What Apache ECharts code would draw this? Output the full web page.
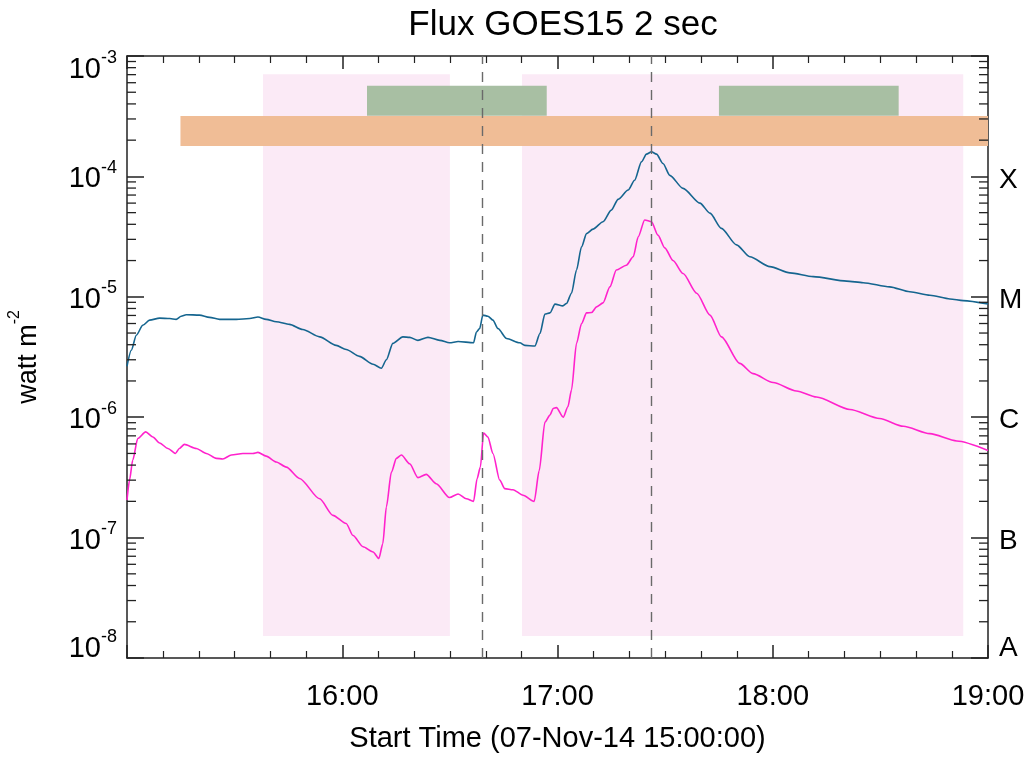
<!DOCTYPE html>
<html>
<head>
<meta charset="utf-8">
<script src="https://cdn.jsdelivr.net/npm/echarts@6/dist/echarts.min.js"></script>
<style>
html,body{margin:0;padding:0;background:#fff;}
#chart{width:1026px;height:758px;}
</style>
</head>
<body>
<div id="chart"></div>
<script>
// ---- data (time in minutes after 07-Nov-14 15:00:00, flux in W m^-2) ----
const longMinutes = [0,1.2,2.6,4.4,6.3,9.1,11.9,13.7,15.1,16.5,20.2,23.0,25.8,30.5,34.2,36.5,38.8,41.6,45.3,49.0,53.7,58.3,61.1,64.8,68.6,70.9,72.3,74.1,76.9,78.8,81.1,83.9,87.2,89.9,92.3,96.6,97.4,98.3,99.2,100.6,102.0,103.4,105.8,109.5,110.9,113.7,115.1,116.5,117.9,119.3,121.5,122.5,123.9,125.3,126.7,128.1,129.9,132.7,135.0,136.9,139.7,141.5,143.4,144.8,146.2,147.6,149.4,151.3,155.0,159.7,162.5,165.7,169.9,173.6,179.2,184.8,191.3,200.6,205.2,212.6,218.2,223.8,229.4,233.1,240];
const longFlux = [2.65e-6,3.6e-6,4.8e-6,5.8e-6,6.4e-6,6.65e-6,6.6e-6,6.5e-6,6.9e-6,7.1e-6,7.05e-6,6.75e-6,6.5e-6,6.5e-6,6.6e-6,6.8e-6,6.5e-6,6.2e-6,5.9e-6,5.35e-6,4.65e-6,3.95e-6,3.65e-6,3.2e-6,2.75e-6,2.55e-6,3.0e-6,4.1e-6,4.65e-6,4.6e-6,4.35e-6,4.6e-6,4.35e-6,4.15e-6,4.25e-6,4.15e-6,5.1e-6,5.45e-6,7.05e-6,6.9e-6,6.4e-6,5.45e-6,4.5e-6,4.15e-6,3.95e-6,3.9e-6,4.95e-6,7.2e-6,7.35e-6,8.7e-6,8.4e-6,8.8e-6,1.07e-5,1.67e-5,2.6e-5,3.35e-5,3.65e-5,4.2e-5,5.25e-5,6.45e-5,7.7e-5,9.3e-5,1.32e-4,1.53e-4,1.6e-4,1.53e-4,1.28e-4,1.02e-4,7.95e-5,6.0e-5,4.95e-5,3.7e-5,2.7e-5,2.15e-5,1.78e-5,1.58e-5,1.47e-5,1.35e-5,1.31e-5,1.21e-5,1.1e-5,1.03e-5,9.6e-6,9.3e-6,8.7e-6];

const shortMinutes = [0,0.7,1.6,3.0,5.2,7.2,9.1,11.4,13.5,14.6,16.0,19.3,22.1,24.9,26.7,29.1,32.3,35.1,36.5,38.8,41.6,44.4,48.1,53.7,57.4,61.1,63.0,65.8,68.6,70.2,71.3,72.3,73.7,75.1,76.5,78.8,81.1,83.4,86.2,89.9,92.3,94.6,96.6,97.6,98.5,99.4,100.6,102.0,103.9,105.3,107.6,110.4,113.5,114.9,116.5,117.9,118.8,119.7,121.6,122.9,123.9,125.3,126.7,128.1,129.5,130.9,132.7,134.6,136.4,139.2,141.1,142.5,144.3,146.2,148.0,149.9,152.2,155.0,158.8,162.5,165.7,170.8,174.5,180.1,186.6,192.2,201.5,209.8,216.4,223.8,231.3,240];
const shortFlux = [2.05e-7,3.0e-7,4.4e-7,6.65e-7,7.55e-7,6.85e-7,6.1e-7,5.5e-7,5.0e-7,5.5e-7,5.95e-7,5.5e-7,5.0e-7,4.55e-7,4.5e-7,4.85e-7,5.0e-7,5.0e-7,5.1e-7,4.75e-7,4.25e-7,3.85e-7,3.1e-7,2.1e-7,1.53e-7,1.31e-7,1.04e-7,8.4e-8,7.6e-8,6.7e-8,8.9e-8,1.8e-7,3.5e-7,4.55e-7,4.85e-7,4.1e-7,3.15e-7,3.35e-7,2.8e-7,2.15e-7,2.3e-7,2.1e-7,2.0e-7,3.1e-7,3.85e-7,7.4e-7,6.85e-7,5.0e-7,3.0e-7,2.55e-7,2.5e-7,2.25e-7,2.0e-7,3.6e-7,9.1e-7,1.04e-6,1.18e-6,1.2e-6,1.0e-6,1.22e-6,1.68e-6,4.1e-6,6.0e-6,7.35e-6,7.4e-6,8.25e-6,8.9e-6,1.21e-5,1.67e-5,1.83e-5,2.15e-5,3.15e-5,4.35e-5,4.2e-5,3.25e-5,2.55e-5,2.0e-5,1.56e-5,1.07e-5,7.05e-6,4.65e-6,2.8e-6,2.3e-6,1.94e-6,1.65e-6,1.47e-6,1.16e-6,9.75e-7,8.4e-7,7.3e-7,6.35e-7,5.3e-7];

// shaded intervals (minutes) and their flux extents
const shadeStart = [37.9, 110.1];
const shadeEnd = [90.0, 233.1];
const shadeFlux = [7.05e-4, 1.52e-8];
const greenStart = [66.9, 165.0];
const greenEnd = [117.0, 215.1];
const greenFlux = [5.66e-4, 3.19e-4];
const orangeStart = [14.9];
const orangeEnd = [240];
const orangeFlux = [3.17e-4, 1.79e-4];
const dashedMinutes = [99.1, 146.1];

const hourLabels = ['', '16:00', '17:00', '18:00', '19:00'];
const classLabels = {'-8': 'A', '-7': 'B', '-6': 'C', '-5': 'M', '-4': 'X', '-3': ''};

// ---- build ----
const FONT = "'Liberation Sans', Arial, Helvetica, sans-serif";
const AX = '#222';
const minorTickValues = [];
for (let k = -8; k <= -4; k++) for (let m = 2; m <= 9; m++) minorTickValues.push(m * Math.pow(10, k));

const longData = longMinutes.map((t, i) => [t, longFlux[i]]);
const shortData = shortMinutes.map((t, i) => [t, shortFlux[i]]);
const pinkAreas = shadeStart.map((s, i) => [{xAxis: s, yAxis: shadeFlux[0]}, {xAxis: shadeEnd[i], yAxis: shadeFlux[1]}]);
const barAreas = greenStart.map((s, i) => [{xAxis: s, yAxis: greenFlux[0], itemStyle: {color: '#a8bfa3'}}, {xAxis: greenEnd[i], yAxis: greenFlux[1]}])
  .concat(orangeStart.map((s, i) => [{xAxis: s, yAxis: orangeFlux[0], itemStyle: {color: '#f0bd96'}}, {xAxis: orangeEnd[i], yAxis: orangeFlux[1]}]));

function yLabel(v) {
  const e = Math.round(Math.log10(v));
  if (e === -3) return '{bx|10}{sx|' + e + '}';
  if (e === -8) return '{bn|10}{sn|' + e + '}';
  return '{b|10}{s|' + e + '}';
}
function rLabel(v) {
  const e = Math.round(Math.log10(v));
  const t = classLabels[String(e)] || '';
  if (!t) return '';
  return e === -8 ? '{an|' + t + '}' : '{a|' + t + '}';
}

const tickCommon = {inside: true, lineStyle: {color: AX, width: 1.5}};
const lineCommon = {show: true, onZero: false, lineStyle: {color: AX, width: 1.5}};

const chart = echarts.init(document.getElementById('chart'), null, {renderer: 'canvas'});
chart.setOption({
  animation: false,
  backgroundColor: '#fff',
  title: {
    text: 'Flux GOES15 2 sec', left: 558, textAlign: 'center', top: 3,
    textStyle: {fontFamily: FONT, fontSize: 35, fontWeight: 'normal', color: '#000'}
  },
  grid: {left: 127, right: 38, top: 56, bottom: 100, containLabel: false, outerBoundsMode: 'none'},
  xAxis: [{
    type: 'value', min: 0, max: 240, interval: 60, position: 'bottom',
    axisLine: lineCommon,
    axisTick: Object.assign({length: 13}, tickCommon),
    minorTick: {show: true, splitNumber: 6, length: 7, lineStyle: {color: AX, width: 1.2}},
    splitLine: {show: false}, minorSplitLine: {show: false},
    axisLabel: {margin: 24, fontSize: 29, color: '#000', fontFamily: FONT, formatter: v => hourLabels[Math.round(v / 60)]},
    name: 'Start Time (07-Nov-14 15:00:00)', nameLocation: 'middle', nameGap: 66,
    nameTextStyle: {fontSize: 29, color: '#000', fontFamily: FONT}
  }, {
    type: 'value', min: 0, max: 240, interval: 60, position: 'top',
    axisLine: lineCommon,
    axisTick: Object.assign({length: 13}, tickCommon),
    minorTick: {show: true, splitNumber: 6, length: 7, lineStyle: {color: AX, width: 1.2}},
    splitLine: {show: false}, axisLabel: {show: false}
  }],
  yAxis: [{
    type: 'log', logBase: 10, min: 1e-8, max: 1e-3, splitNumber: 5, position: 'left',
    axisLine: lineCommon,
    axisTick: Object.assign({length: 17}, tickCommon),
    splitLine: {show: false},
    axisLabel: {
      margin: 10, color: '#000', fontFamily: FONT, formatter: yLabel,
      rich: {
        b: {fontSize: 29, fontFamily: FONT, color: '#000', verticalAlign: 'top', padding: [6, 0, 0, 0]},
        s: {fontSize: 18, fontFamily: FONT, color: '#000', verticalAlign: 'top'},
        bx: {fontSize: 29, fontFamily: FONT, color: '#000', verticalAlign: 'bottom', padding: [28, 0, 0, 0]},
        sx: {fontSize: 18, fontFamily: FONT, color: '#000', verticalAlign: 'bottom', padding: [0, 0, 17, 0]},
        bn: {fontSize: 29, fontFamily: FONT, color: '#000', verticalAlign: 'top', padding: [6, 0, 0, 0]},
        sn: {fontSize: 18, fontFamily: FONT, color: '#000', verticalAlign: 'top', padding: [0, 0, 41, 0]}
      }
    },
    name: '{n|watt m}{ns|-2}', nameLocation: 'middle', nameGap: 85, nameRotate: 90,
    nameTextStyle: {
      rich: {
        n: {fontSize: 27, fontFamily: FONT, color: '#000', verticalAlign: 'bottom', padding: [8, 0, 0, 0]},
        ns: {fontSize: 16, fontFamily: FONT, color: '#000', verticalAlign: 'top'}
      }
    }
  }, {
    type: 'log', logBase: 10, min: 1e-8, max: 1e-3, splitNumber: 5, position: 'right',
    axisLine: lineCommon,
    axisTick: Object.assign({length: 17}, tickCommon),
    splitLine: {show: false},
    axisLabel: {
      margin: 11, color: '#000', fontFamily: FONT, formatter: rLabel,
      rich: {
        a: {fontSize: 28, fontFamily: FONT, color: '#000', padding: [7, 0, 0, 0]},
        an: {fontSize: 28, fontFamily: FONT, color: '#000', padding: [0, 0, 20, 0]}
      }
    }
  }],
  series: [{
    name: 'flare', type: 'line', data: [], xAxisIndex: 0, yAxisIndex: 0, silent: true,
    markArea: {silent: true, z: 1, label: {show: false}, itemStyle: {color: '#fbeaf6', opacity: 1}, data: pinkAreas}
  }, {
    name: 'bars', type: 'line', data: [], xAxisIndex: 0, yAxisIndex: 0, silent: true,
    markArea: {silent: true, z: 1, label: {show: false}, itemStyle: {opacity: 1}, data: barAreas}
  }, {
    name: 'long', type: 'line', data: longData, xAxisIndex: 0, yAxisIndex: 0, z: 3,
    showSymbol: false, symbol: 'none', silent: true, smooth: 0.25, smoothMonotone: 'x',
    lineStyle: {color: '#15658f', width: 1.6}
  }, {
    name: 'short', type: 'line', data: shortData, xAxisIndex: 0, yAxisIndex: 0, z: 3,
    showSymbol: false, symbol: 'none', silent: true, smooth: 0.25, smoothMonotone: 'x',
    lineStyle: {color: '#ff22cc', width: 1.6}
  }, {
    name: 'peaks', type: 'line', data: [], xAxisIndex: 0, yAxisIndex: 0, silent: true,
    markLine: {
      silent: true, symbol: ['none', 'none'], label: {show: false},
      lineStyle: {type: [10, 8], color: '#6a6a6a', width: 1.4},
      data: dashedMinutes.map(t => ({xAxis: t}))
    }
  }, {
    name: 'minorTicks', type: 'custom', xAxisIndex: 0, yAxisIndex: 0, silent: true, z: 6,
    data: minorTickValues.map(v => [0, v]),
    renderItem: function (params, api) {
      const v = api.value(1);
      const pL = api.coord([0, v]);
      const pR = api.coord([240, v]);
      const st = {stroke: AX, lineWidth: 1.3};
      return {type: 'group', children: [
        {type: 'line', shape: {x1: pL[0], y1: pL[1], x2: pL[0] + 9, y2: pL[1]}, style: st},
        {type: 'line', shape: {x1: pR[0] - 9, y1: pR[1], x2: pR[0], y2: pR[1]}, style: st}
      ]};
    }
  }]
});
</script>
</body>
</html>
